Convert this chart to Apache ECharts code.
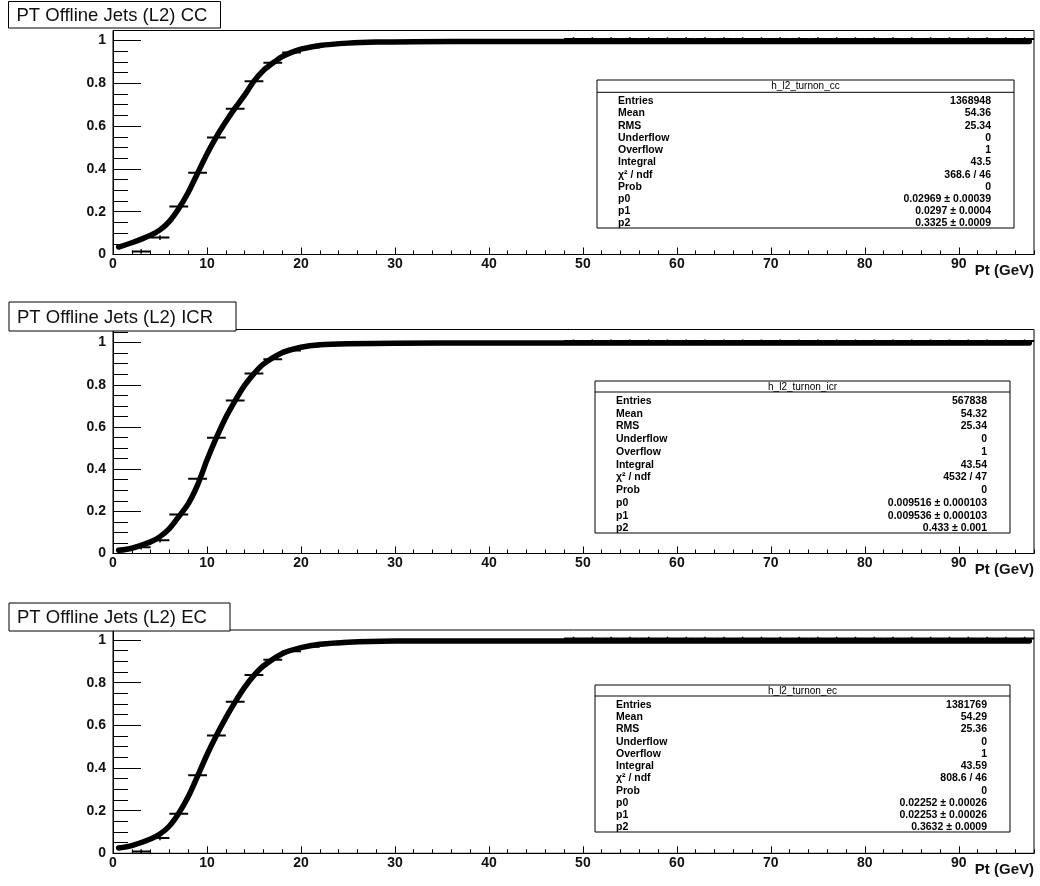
<!DOCTYPE html>
<html>
<head>
<meta charset="utf-8">
<script src="https://cdn.jsdelivr.net/npm/echarts@6/dist/echarts.min.js"></script>
<style>
  html, body { margin: 0; padding: 0; background: #fff; }
  #main { width: 1040px; height: 886px; }
</style>
</head>
<body>
<div id="main"></div>
<script>
// bin centres (2 GeV bins)
var binWidth = 2;
var binX = [3,5,7,9,11,13,15,17,19,21,23,25,27,29,31,33,35,37,39,41,43,45,47,
            49,51,53,55,57,59,61,63,65,67,69,71,73,75,77,79,81,83,85,87,89,91,93,95,97];

// efficiency per bin
var effCC  = [0.014,0.079,0.224,0.382,0.547,0.681,0.810,0.896,0.944,0.968,0.981,0.988,0.992,0.994,
              0.995,0.996,0.996,0.996,0.996,0.996,0.996,0.996,0.996,
              1.007,1.007,1.007,1.007,1.007,1.007,1.007,1.007,1.007,1.007,1.007,1.007,1.007,
              1.007,1.007,1.007,1.007,1.007,1.007,1.007,1.007,1.007,1.007,1.007,1.007];
var effICR = [0.030,0.063,0.185,0.354,0.549,0.725,0.853,0.921,0.962,0.981,0.990,0.994,0.996,0.997,
              0.997,0.997,0.997,0.997,0.997,0.997,0.997,0.997,0.997,
              1.007,1.007,1.007,1.007,1.007,1.007,1.007,1.007,1.007,1.007,1.007,1.007,1.007,
              1.007,1.007,1.007,1.007,1.007,1.007,1.007,1.007,1.007,1.007,1.007,1.007];
var effEC  = [0.008,0.072,0.186,0.366,0.552,0.710,0.836,0.908,0.947,0.968,0.980,0.987,0.991,0.993,
              0.995,0.995,0.995,0.995,0.995,0.995,0.995,0.995,0.995,
              1.007,1.007,1.007,1.007,1.007,1.007,1.007,1.007,1.007,1.007,1.007,1.007,1.007,
              1.007,1.007,1.007,1.007,1.007,1.007,1.007,1.007,1.007,1.007,1.007,1.007];
// vertical error per bin
var effErr = [0.011,0.011,0.006,0.005,0.005,0.004,0.004,0.003,0.003,0.002,0.002,0.002,0.002,0.002,
              0.002,0.002,0.002,0.002,0.002,0.002,0.002,0.002,0.002,
              0.008,0.008,0.008,0.008,0.008,0.008,0.008,0.008,0.008,0.008,0.008,0.008,0.008,
              0.008,0.008,0.008,0.008,0.008,0.008,0.008,0.008,0.008,0.008,0.008,0.008];

// fitted turn-on curves
var fitCCx  = [0.6,2,4,5,6,7,8,9,10,11,12,13,14,15,16,17,18,19,20,22,25,28,32,40,60,97.5];
var fitCCy  = [0.035,0.055,0.09,0.115,0.155,0.215,0.29,0.38,0.47,0.55,0.62,0.685,0.745,0.81,0.86,0.895,0.925,0.945,0.96,0.977,0.988,0.993,0.995,0.996,0.996,0.996];
var fitICRx = [0.6,2,4,5,6,7,8,9,10,11,12,13,14,15,16,18,20,22,25,30,40,60,97.5];
var fitICRy = [0.015,0.025,0.055,0.08,0.118,0.175,0.235,0.325,0.443,0.549,0.645,0.725,0.797,0.853,0.898,0.952,0.978,0.99,0.995,0.997,0.998,0.998,0.998];
var fitECx  = [0.6,2,4,5,6,7,8,9,10,11,12,13,14,15,16,18,20,22,25,30,40,60,97.5];
var fitECy  = [0.025,0.036,0.067,0.09,0.128,0.188,0.265,0.362,0.462,0.552,0.635,0.71,0.778,0.834,0.878,0.936,0.964,0.98,0.99,0.995,0.996,0.996,0.996];

// stats box texts
var statLabels = ['Entries','Mean','RMS','Underflow','Overflow','Integral','\u03c7\u00b2 / ndf','Prob','p0','p1','p2'];
var statsCC  = ['1368948','54.36','25.34','0','1','43.5','368.6 / 46','0','0.02969 \u00b1 0.00039','0.0297 \u00b1 0.0004','0.3325 \u00b1 0.0009'];
var statsICR = ['567838','54.32','25.34','0','1','43.54','4532 / 47','0','0.009516 \u00b1 0.000103','0.009536 \u00b1 0.000103','0.433 \u00b1 0.001'];
var statsEC  = ['1381769','54.29','25.36','0','1','43.59','808.6 / 46','0','0.02252 \u00b1 0.00026','0.02253 \u00b1 0.00026','0.3632 \u00b1 0.0009'];

var FONT = 'Liberation Sans, Arial, Helvetica, sans-serif';

var panels = [
  {title:'PT Offline Jets (L2) CC', hist:'h_l2_turnon_cc', eff:effCC, fx:fitCCx, fy:fitCCy, stats:statsCC,
   top:30.5, height:224, yMax:1.047, tbox:[8.5,1.5,212,26.5], sbox:[597,80,417,148,12.3]},
  {title:'PT Offline Jets (L2) ICR', hist:'h_l2_turnon_icr', eff:effICR, fx:fitICRx, fy:fitICRy, stats:statsICR,
   top:329.5, height:224, yMax:1.062, tbox:[9,302,227,29], sbox:[595,381,415,152,11]},
  {title:'PT Offline Jets (L2) EC', hist:'h_l2_turnon_ec', eff:effEC, fx:fitECx, fy:fitECy, stats:statsEC,
   top:630, height:223.3, yMax:1.047, tbox:[9,603,221,28], sbox:[595,685,415,147,11]}
];

function renderErr(params, api) {
  var x = api.value(0), y = api.value(1), e = api.value(2);
  var l = api.coord([x - binWidth / 2, y]);
  var r = api.coord([x + binWidth / 2, y]);
  var b = api.coord([x, y - e]);
  var t = api.coord([x, y + e]);
  return {
    type: 'group',
    children: [
      {type:'line', shape:{x1:l[0], y1:l[1], x2:r[0], y2:r[1]}, style:{stroke:'#000', lineWidth:2}},
      {type:'line', shape:{x1:b[0], y1:b[1], x2:t[0], y2:t[1]}, style:{stroke:'#000', lineWidth:1.5}}
    ]
  };
}

var grids = [], xAxes = [], yAxes = [], series = [], graphics = [];
var lineCol = {color:'#000', width:1};
var labelStyle = {color:'#111', fontSize:14, fontWeight:'bold', fontFamily:FONT};

panels.forEach(function (p, i) {
  grids.push({left:113, width:921, top:p.top, height:p.height, show:true,
              borderColor:'#000', borderWidth:1, backgroundColor:'transparent',
              containLabel:false, outerBoundsMode:'none'});
  // major x
  xAxes.push({type:'value', gridIndex:i, min:0, max:98, interval:10, position:'bottom',
    axisLine:{onZero:false, lineStyle:lineCol},
    axisTick:{inside:true, length:7, lineStyle:lineCol},
    axisLabel:Object.assign({showMaxLabel:false, margin:3}, labelStyle),
    splitLine:{show:false},
    name:'Pt (GeV)', nameLocation:'end', nameGap:0,
    nameTextStyle:{align:'right', verticalAlign:'top', padding:[9,0,0,0], fontSize:15, fontWeight:'bold', color:'#111', fontFamily:FONT}
  });
  // minor x
  xAxes.push({type:'value', gridIndex:i, min:0, max:98, interval:2, position:'bottom',
    axisLine:{show:false}, axisTick:{inside:true, length:4, lineStyle:lineCol},
    axisLabel:{show:false}, splitLine:{show:false}});
  // major y
  yAxes.push({type:'value', gridIndex:i, min:0, max:p.yMax, interval:0.2, position:'left',
    axisLine:{onZero:false, lineStyle:lineCol},
    axisTick:{inside:true, length:28, lineStyle:lineCol},
    axisLabel:Object.assign({showMaxLabel:false, margin:7}, labelStyle),
    splitLine:{show:false}});
  // minor y
  yAxes.push({type:'value', gridIndex:i, min:0, max:p.yMax, interval:0.05, position:'left',
    axisLine:{show:false}, axisTick:{inside:true, length:15, lineStyle:lineCol},
    axisLabel:{show:false}, splitLine:{show:false}});

  series.push({type:'line', xAxisIndex:2 * i, yAxisIndex:2 * i,
    data:p.fx.map(function (x, k) { return [x, p.fy[k]]; }),
    smooth:0.3, showSymbol:false, symbol:'none',
    lineStyle:{color:'#000', width:5.5, cap:'round', join:'round'}, z:2});
  series.push({type:'custom', xAxisIndex:2 * i, yAxisIndex:2 * i,
    data:binX.map(function (x, k) { return [x, p.eff[k], effErr[k]]; }),
    encode:{x:0, y:1}, renderItem:renderErr, clip:true, z:3});

  // title box
  var tb = p.tbox;
  graphics.push({type:'rect', shape:{x:tb[0], y:tb[1], width:tb[2], height:tb[3]},
    style:{fill:'#fff', stroke:'#000', lineWidth:1}, z:10});
  graphics.push({type:'text', x:tb[0] + 8, y:tb[1] + tb[3] / 2 + 1,
    style:{text:p.title, fill:'#111', font:'18.5px ' + FONT, align:'left', verticalAlign:'middle',
           textAlign:'left', textVerticalAlign:'middle'}, z:11});

  // stats box
  var s = p.sbox, sx = s[0], sy = s[1], sw = s[2], sh = s[3], hh = s[4];
  graphics.push({type:'rect', shape:{x:sx, y:sy, width:sw, height:sh},
    style:{fill:'#fff', stroke:'#000', lineWidth:1}, z:10});
  graphics.push({type:'line', shape:{x1:sx, y1:sy + hh, x2:sx + sw, y2:sy + hh},
    style:{stroke:'#000', lineWidth:1}, z:11});
  graphics.push({type:'text', x:sx + sw / 2, y:sy + hh / 2 + 0.5,
    style:{text:p.hist, fill:'#000', font:'10px ' + FONT, align:'center', verticalAlign:'middle',
           textAlign:'center', textVerticalAlign:'middle'}, z:11});
  var first = sy + hh + 9, last = sy + sh - 4.5, step = (last - first) / (statLabels.length - 1);
  statLabels.forEach(function (lab, k) {
    var yy = first + k * step;
    graphics.push({type:'text', x:sx + 21, y:yy,
      style:{text:lab, fill:'#000', font:'bold 10.5px ' + FONT, align:'left', verticalAlign:'middle',
             textAlign:'left', textVerticalAlign:'middle'}, z:11});
    graphics.push({type:'text', x:sx + sw - 23, y:yy,
      style:{text:p.stats[k], fill:'#000', font:'bold 10.5px ' + FONT, align:'right', verticalAlign:'middle',
             textAlign:'right', textVerticalAlign:'middle'}, z:11});
  });
});

var chart = echarts.init(document.getElementById('main'));
chart.setOption({
  animation:false,
  backgroundColor:'#fff',
  grid:grids,
  xAxis:xAxes,
  yAxis:yAxes,
  series:series,
  graphic:graphics
});
</script>
</body>
</html>
